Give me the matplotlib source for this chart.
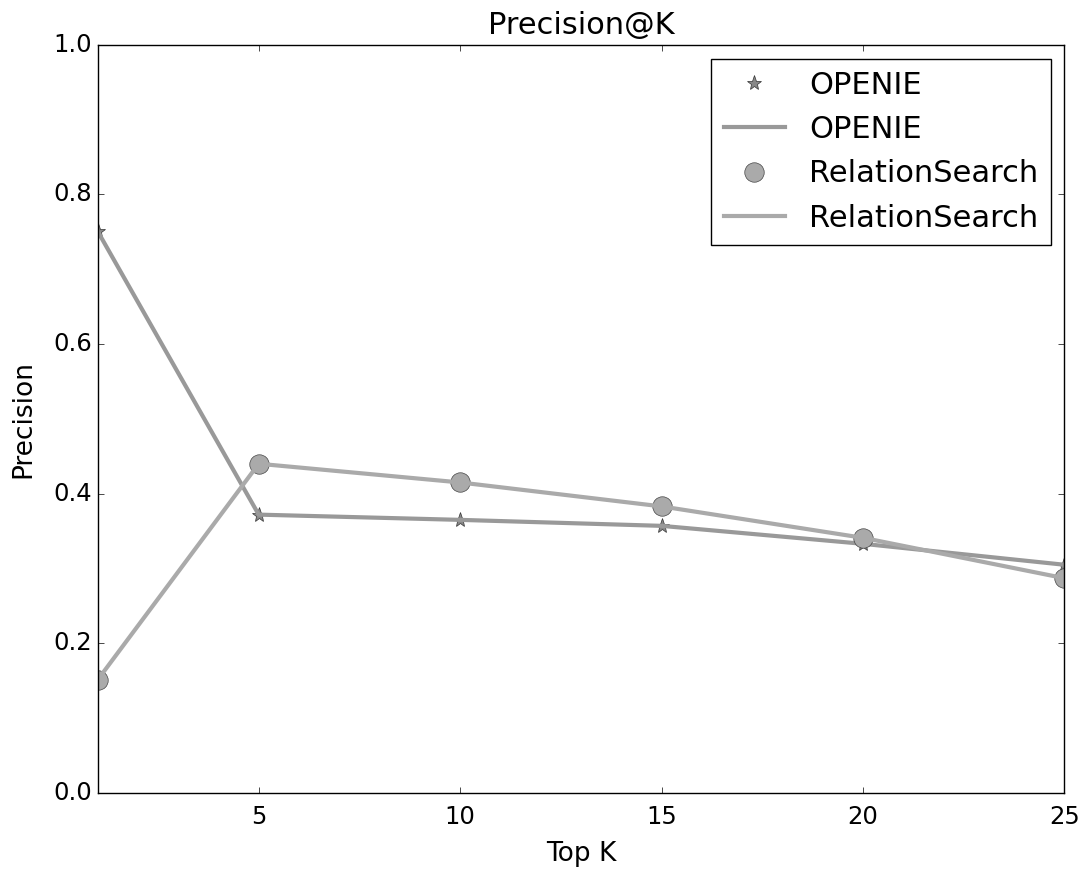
import matplotlib
matplotlib.use("Agg")
import matplotlib.pyplot as plt

top_k = [1, 5, 10, 15, 20, 25]
openie = [0.751, 0.372, 0.365, 0.357, 0.333, 0.305]
relation_search = [0.151, 0.440, 0.415, 0.383, 0.341, 0.287]

plt.style.use('classic')
plt.rcParams['font.family'] = ['DejaVu Sans']

fig = plt.figure(figsize=(10.84, 8.71), dpi=100, facecolor='white')
ax = fig.add_axes([0.090, 0.0896, 0.892, 0.859])

ax.plot(top_k, openie, '*', color='#888888', markeredgecolor='#333333',
        markersize=11, label='OPENIE')
ax.plot(top_k, openie, '-', color='#999999', linewidth=3, label='OPENIE')
ax.plot(top_k, relation_search, 'o', color='#aaaaaa', markeredgecolor='#444444',
        markersize=14, label='RelationSearch')
ax.plot(top_k, relation_search, '-', color='#aaaaaa', linewidth=3, label='RelationSearch')

ax.set_xlim(1, 25)
ax.set_ylim(0.0, 1.0)
ax.set_xticks([5, 10, 15, 20, 25])
ax.set_yticks([0.0, 0.2, 0.4, 0.6, 0.8, 1.0])
ax.tick_params(labelsize=17.5)
ax.tick_params(axis='x', pad=9)
ax.set_title('Precision@K', fontsize=22, pad=8)
ax.set_xlabel('Top K', fontsize=19, labelpad=8)
ax.set_ylabel('Precision', fontsize=19, labelpad=12)
ax.legend(loc='upper right', numpoints=1, fontsize=22, fancybox=False,
          labelspacing=0.5, borderaxespad=0.45)

fig.savefig('out.png', dpi=100, facecolor='white')
